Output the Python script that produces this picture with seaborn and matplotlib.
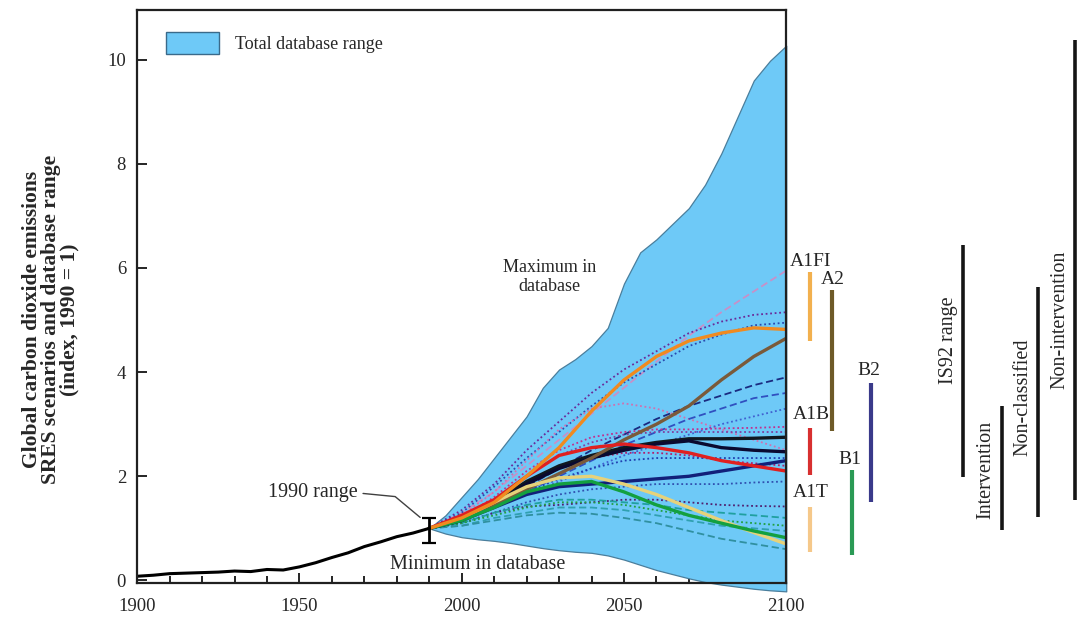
import matplotlib
matplotlib.use("Agg")
import matplotlib.pyplot as plt
import matplotlib.patches as mpatches
import numpy as np
import pandas as pd
import seaborn as sns

# ---------------- data ----------------
hist_years = [1900, 1905, 1910, 1915, 1920, 1925, 1930, 1935, 1940, 1945,
              1950, 1955, 1960, 1965, 1970, 1975, 1980, 1985, 1990]
hist_vals = [0.08, 0.10, 0.13, 0.14, 0.15, 0.16, 0.18, 0.17, 0.21, 0.20,
             0.26, 0.34, 0.44, 0.53, 0.65, 0.74, 0.84, 0.91, 1.0]

range_years = [1990, 1995, 2000, 2005, 2010, 2015, 2020, 2025, 2030, 2035, 2040, 2045,
               2050, 2055, 2060, 2065, 2070, 2075, 2080, 2085, 2090, 2095, 2100]
range_max = [1.0, 1.25, 1.6, 1.95, 2.35, 2.75, 3.15, 3.7, 4.05, 4.25, 4.5, 4.85,
             5.7, 6.3, 6.55, 6.85, 7.15, 7.6, 8.2, 8.9, 9.6, 9.98, 10.27]
range_min = [1.0, 0.9, 0.83, 0.79, 0.76, 0.72, 0.67, 0.62, 0.58, 0.55, 0.53, 0.48,
             0.4, 0.3, 0.2, 0.12, 0.04, -0.03, -0.08, -0.12, -0.16, -0.19, -0.21]

scen_years = [1990, 2000, 2010, 2020, 2030, 2040, 2050, 2060, 2070, 2080, 2090, 2100]

# thin dotted / dashed scenarios
thin_lav = [1.0, 1.3, 1.7, 2.2, 2.7, 3.2, 3.7, 4.2, 4.7, 5.15, 5.55, 5.95]
thin_pur1 = [1.0, 1.35, 1.85, 2.5, 3.05, 3.6, 4.05, 4.4, 4.75, 4.97, 5.1, 5.15]
thin_blue1 = [1.0, 1.3, 1.8, 2.35, 2.85, 3.35, 3.8, 4.15, 4.5, 4.72, 4.9, 4.95]
thin_pink1 = [1.0, 1.25, 1.7, 2.3, 2.9, 3.3, 3.4, 3.3, 3.1, 2.9, 2.7, 2.5]
thin_navy = [1.0, 1.2, 1.5, 1.8, 2.15, 2.5, 2.8, 3.1, 3.35, 3.55, 3.75, 3.9]
thin_blue2 = [1.0, 1.2, 1.45, 1.7, 2.0, 2.3, 2.6, 2.85, 3.1, 3.3, 3.5, 3.6]
thin_blue3 = [1.0, 1.15, 1.4, 1.65, 1.9, 2.15, 2.4, 2.6, 2.8, 3.0, 3.15, 3.3]
thin_mag1 = [1.0, 1.2, 1.6, 2.1, 2.5, 2.75, 2.85, 2.9, 2.9, 2.92, 2.93, 2.95]
thin_pur2 = [1.0, 1.2, 1.55, 2.0, 2.4, 2.65, 2.8, 2.85, 2.85, 2.85, 2.85, 2.85]
thin_mag2 = [1.0, 1.15, 1.45, 1.85, 2.15, 2.35, 2.45, 2.45, 2.4, 2.3, 2.25, 2.2]
thin_blue4 = [1.0, 1.15, 1.4, 1.7, 1.95, 2.15, 2.3, 2.35, 2.35, 2.35, 2.35, 2.35]
thin_blue5 = [1.0, 1.1, 1.3, 1.5, 1.65, 1.75, 1.8, 1.85, 1.85, 1.85, 1.88, 1.9]
thin_pur3 = [1.0, 1.1, 1.3, 1.42, 1.45, 1.5, 1.55, 1.55, 1.5, 1.45, 1.43, 1.42]
thin_teal1 = [1.0, 1.1, 1.3, 1.45, 1.55, 1.55, 1.5, 1.45, 1.35, 1.3, 1.25, 1.2]
thin_green1 = [1.0, 1.1, 1.25, 1.4, 1.5, 1.5, 1.45, 1.35, 1.25, 1.15, 1.1, 1.05]
thin_teal2 = [1.0, 1.05, 1.2, 1.3, 1.4, 1.4, 1.35, 1.25, 1.15, 1.05, 1.0, 0.95]
thin_teal3 = [1.0, 1.05, 1.15, 1.25, 1.3, 1.28, 1.2, 1.1, 0.95, 0.8, 0.7, 0.6]

# thick marker scenarios
a1fi_vals = [1.0, 1.2, 1.5, 2.0, 2.55, 3.25, 3.85, 4.3, 4.6, 4.75, 4.85, 4.82]
a2_vals = [1.0, 1.2, 1.45, 1.75, 2.05, 2.35, 2.7, 3.0, 3.35, 3.85, 4.3, 4.65]
a1b_vals = [1.0, 1.25, 1.55, 2.0, 2.4, 2.55, 2.62, 2.55, 2.45, 2.3, 2.2, 2.1]
a1t_vals = [1.0, 1.2, 1.5, 1.8, 1.97, 2.0, 1.85, 1.65, 1.4, 1.15, 0.92, 0.7]
b1_vals = [1.0, 1.15, 1.4, 1.7, 1.85, 1.9, 1.7, 1.45, 1.25, 1.1, 0.95, 0.82]
b2_vals = [1.0, 1.15, 1.4, 1.65, 1.8, 1.85, 1.9, 1.95, 2.0, 2.1, 2.2, 2.3]
black1_vals = [1.0, 1.2, 1.5, 1.9, 2.2, 2.4, 2.55, 2.65, 2.72, 2.72, 2.73, 2.75]
black2_vals = [1.0, 1.15, 1.45, 1.85, 2.15, 2.35, 2.5, 2.62, 2.68, 2.55, 2.5, 2.47]

# ranges at right (SRES groups and literature)
sres_labels = ["A1FI", "A2", "A1B", "A1T", "B1", "B2"]
sres_low = [4.6, 2.86, 2.03, 0.54, 0.48, 1.51]
sres_high = [5.92, 5.57, 2.92, 1.41, 2.13, 3.79]
lit_labels = ["IS92 range", "Intervention", "Non-classified", "Non-intervention"]
lit_low = [1.99, 0.97, 1.22, 1.55]
lit_high = [6.44, 3.35, 5.63, 10.37]

err_1990_low = 0.72
err_1990_high = 1.2

# ---------------- style ----------------
sns.set_theme(style="ticks")
plt.rcParams["font.family"] = ["Liberation Serif", "DejaVu Serif"]

fig = plt.figure(figsize=(10.8, 6.39), dpi=100)
ax = fig.add_axes([0.127, 0.0876, 0.601, 0.8964])

fill_col = "#6ec9f7"
ax.fill_between(range_years, range_min, range_max, color=fill_col,
                edgecolor="#4a7e9c", linewidth=0.9, clip_on=False, zorder=1)

thin_specs = [
    (thin_lav, "#c890c8", (0, (4, 2))),
    (thin_pur1, "#6a2a9a", (0, (1, 1.5))),
    (thin_blue1, "#2a4ab0", (0, (1, 1.5))),
    (thin_pink1, "#d070b0", (0, (1, 1.5))),
    (thin_navy, "#1a2a80", (0, (4, 2))),
    (thin_blue2, "#3050c0", (0, (4, 2))),
    (thin_blue3, "#4060d0", (0, (1, 1.5))),
    (thin_mag1, "#c03090", (0, (1, 1.5))),
    (thin_pur2, "#8040a0", (0, (1, 1.5))),
    (thin_mag2, "#b02070", (0, (1, 1.5))),
    (thin_blue4, "#2040b0", (0, (1, 1.5))),
    (thin_blue5, "#3050b0", (0, (1, 1.5))),
    (thin_pur3, "#502070", (0, (1, 1.5))),
    (thin_teal1, "#20a0a0", (0, (4, 2))),
    (thin_green1, "#20a040", (0, (1, 1.5))),
    (thin_teal2, "#30a0b0", (0, (4, 2))),
    (thin_teal3, "#3090a0", (0, (4, 2))),
]
for vals, col, ls in thin_specs:
    sns.lineplot(x=scen_years, y=vals, ax=ax, color=col, linewidth=1.3,
                 linestyle=ls, zorder=2)

thick_specs = [
    (black1_vals, "#101820"),
    (black2_vals, "#0a0a30"),
    (b2_vals, "#12207a"),
    (a2_vals, "#7a5a3a"),
    (a1t_vals, "#e6d27a"),
    (b1_vals, "#13a040"),
    (a1b_vals, "#e02020"),
    (a1fi_vals, "#f08a20"),
]
for vals, col in thick_specs:
    sns.lineplot(x=scen_years, y=vals, ax=ax, color=col, linewidth=2.4, zorder=3)

sns.lineplot(x=hist_years, y=hist_vals, ax=ax, color="black", linewidth=2.2, zorder=4)
ax.errorbar([1990], [1.0], yerr=[[1.0 - err_1990_low], [err_1990_high - 1.0]],
            fmt="none", ecolor="black", elinewidth=2, capsize=5, capthick=1.6, zorder=5)

# axes
ax.set_xlim(1900, 2100)
ax.set_ylim(-0.05, 10.95)
ax.set_xticks([1900, 1950, 2000, 2050, 2100])
ax.set_xticks(np.arange(1900, 2101, 10), minor=True)
ax.set_yticks([0, 2, 4, 6, 8, 10])
ax.tick_params(axis="both", which="both", direction="in", labelsize=13.5, color="black")
ax.tick_params(axis="x", which="major", length=7, width=1.2, pad=11)
ax.tick_params(axis="x", which="minor", length=5, width=1.2)
ax.tick_params(axis="y", which="major", length=7, width=1.2, pad=8)
for s in ax.spines.values():
    s.set_color("#202020")
    s.set_linewidth(1.6)
    s.set_zorder(6)
ax.set_xlabel("")
ax.set_ylabel("Global carbon dioxide emissions\nSRES scenarios and database range\n(index, 1990 = 1)",
              fontsize=15.5, fontweight="bold", linespacing=0.92, va="center")
ax.yaxis.set_label_coords(-0.133, 0.46)

# legend
handle = mpatches.Patch(facecolor=fill_col, edgecolor="#3a6a8a", linewidth=1.0)
ax.legend([handle], ["Total database range"], loc="upper left",
          bbox_to_anchor=(0.02, 0.99), frameon=False, fontsize=13,
          handlelength=2.9, handleheight=1.45, handletextpad=0.9)

# annotations
ax.text(2027, 5.83, "Maximum in\ndatabase", ha="center", va="center", fontsize=13,
        linespacing=1.2, zorder=7)
ax.text(2005, 0.3, "Minimum in database", ha="center", va="center", fontsize=14.5, zorder=7)
ax.text(1954, 1.69, "1990 range", ha="center", va="center", fontsize=14.5, zorder=7)
ax.plot([1969.6, 1979.5, 1987.2], [1.67, 1.61, 1.21], color="#404040", linewidth=1.0,
        zorder=7)

# SRES group ranges at right
sres_x = [2107.4, 2114.2, 2107.4, 2107.4, 2120.3, 2126.2]
sres_col = ["#f2b04e", "#6e5a28", "#d83030", "#f5c88a", "#2a9a55", "#3a3a8a"]
sres_lab_pos = [(2107.5, 6.12), (2114.5, 5.77), (2107.8, 3.18), (2107.5, 1.69),
                (2119.5, 2.32), (2125.5, 4.04)]
for lab, lo, hi, x, c, (tx, ty) in zip(sres_labels, sres_low, sres_high, sres_x,
                                       sres_col, sres_lab_pos):
    ax.plot([x, x], [lo, hi], color=c, linewidth=3, clip_on=False, solid_capstyle="butt")
    ax.text(tx, ty, lab, ha="center", va="center", fontsize=14, clip_on=False)

lit_x = [2154.5, 2166.6, 2177.7, 2189.1]
lit_lab_pos = [(2149.9, 4.62), (2161.6, 2.13), (2173.0, 3.52), (2184.4, 5.0)]
for lab, lo, hi, x, (tx, ty) in zip(lit_labels, lit_low, lit_high, lit_x, lit_lab_pos):
    ax.plot([x, x], [lo, hi], color="#151515", linewidth=2.6, clip_on=False,
            solid_capstyle="butt")
    ax.text(tx, ty, lab, ha="center", va="center", fontsize=14.5, rotation=90,
            clip_on=False)

fig.savefig("out.png", dpi=100)
